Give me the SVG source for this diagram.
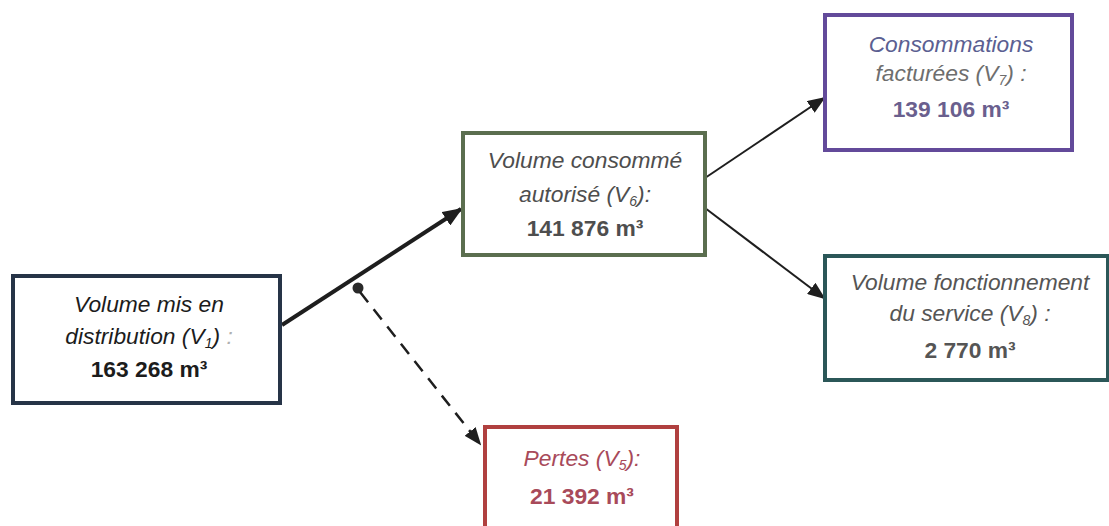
<svg xmlns="http://www.w3.org/2000/svg" width="1109" height="526" viewBox="0 0 1109 526">
<style>
.box{fill:#ffffff;stroke-width:4}
.t{font-family:"Liberation Sans",Arial,sans-serif;font-size:22.8px;text-anchor:middle}
.i{font-style:italic}
.b{font-weight:bold}
.sub{font-size:14px}
.conn{fill:none;stroke:#1e1e1e}
</style>
<defs>
<marker id="ah" markerUnits="userSpaceOnUse" markerWidth="18" markerHeight="14" refX="16" refY="7" orient="auto">
<path d="M0,0 L18,7 L0,14 Z" fill="#1e1e1e"/>
</marker>
<marker id="ahb" markerUnits="userSpaceOnUse" markerWidth="20" markerHeight="16" refX="18" refY="8" orient="auto">
<path d="M0,0 L20,8 L0,16 Z" fill="#1e1e1e"/>
</marker>
</defs>
<rect width="1109" height="526" fill="#ffffff"/>
<g id="connectors">
<line class="conn" x1="282" y1="325" x2="461" y2="209" stroke-width="4" marker-end="url(#ahb)"/>
<circle cx="358" cy="288" r="5.5" fill="#2a2a2a"/>
<line class="conn" x1="360" y1="292" x2="480" y2="444" stroke-width="2.5" stroke-dasharray="13 9" marker-end="url(#ah)"/>
<line class="conn" x1="705" y1="178" x2="824" y2="98" stroke-width="2" marker-end="url(#ah)"/>
<line class="conn" x1="705" y1="208" x2="824" y2="298" stroke-width="2" marker-end="url(#ah)"/>
</g>
<g id="v1">
<rect class="box" x="13" y="276" width="267" height="127" stroke="#263447"/>
<text class="t i" x="149" y="312" fill="#1c1c1c">Volume mis en</text>
<text class="t i" x="149" y="344" fill="#1c1c1c">distribution (V<tspan class="sub" dy="4">1</tspan><tspan dy="-4">) </tspan><tspan fill="#b0b0b0">:</tspan></text>
<text class="t b" x="149" y="377" fill="#1c1c1c">163 268 m³</text>
</g>
<g id="v6">
<rect class="box" x="463" y="133" width="242" height="122" stroke="#5b6e4f"/>
<text class="t i" x="585" y="168" fill="#4e4e4e">Volume consommé</text>
<text class="t i" x="585" y="202" fill="#4e4e4e">autorisé (V<tspan class="sub" dy="4">6</tspan><tspan dy="-4">):</tspan></text>
<text class="t b" x="585" y="236" fill="#4e4e4e">141 876 m³</text>
</g>
<g id="v7">
<rect class="box" x="825" y="15" width="247" height="135" stroke="#634a9a"/>
<text class="t i" x="951" y="52" fill="#5b5f92">Consommations</text>
<text class="t i" x="951" y="81" fill="#6e6e6e">facturées (V<tspan class="sub" dy="4">7</tspan><tspan dy="-4">) :</tspan></text>
<text class="t b" x="951" y="117" fill="#6a5f8e">139 106 m³</text>
</g>
<g id="v8">
<rect class="box" x="825" y="256" width="283" height="124" stroke="#2b5758"/>
<text class="t i" x="970" y="290" fill="#555555">Volume fonctionnement</text>
<text class="t i" x="970" y="321" fill="#555555">du service (V<tspan class="sub" dy="4">8</tspan><tspan dy="-4">) :</tspan></text>
<text class="t b" x="970" y="358" fill="#555555">2 770 m³</text>
</g>
<g id="v5">
<rect class="box" x="485" y="427" width="192" height="110" stroke="#b0403f"/>
<text class="t i" x="582" y="466" fill="#a84a5a">Pertes (V<tspan class="sub" dy="4">5</tspan><tspan dy="-4">):</tspan></text>
<text class="t b" x="582" y="504" fill="#a84a5a">21 392 m³</text>
</g>
</svg>
